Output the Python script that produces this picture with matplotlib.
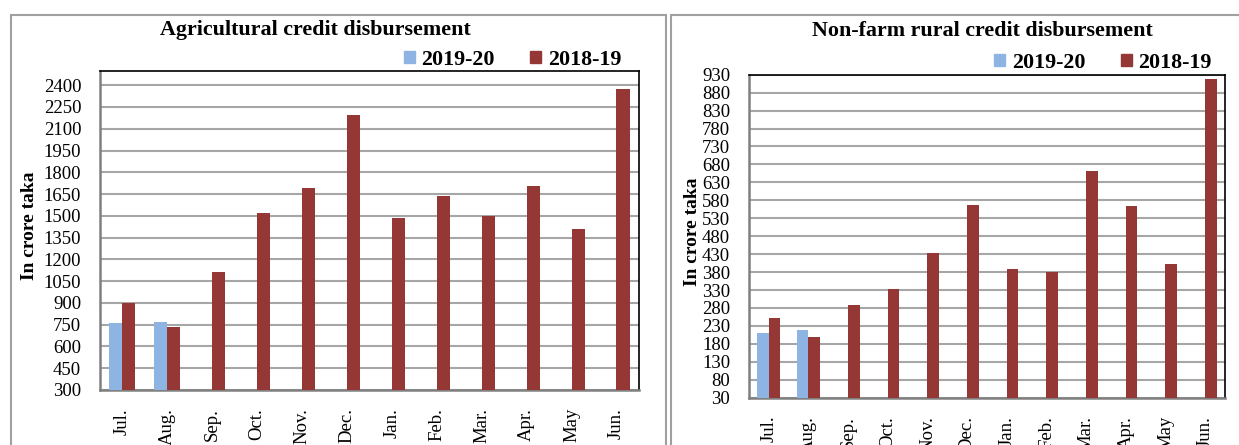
import matplotlib.pyplot as plt
import numpy as np
from matplotlib.patches import Rectangle, Patch

plt.rcParams['font.family'] = ['Liberation Serif', 'DejaVu Serif']

months = ['Jul.', 'Aug.', 'Sep.', 'Oct.', 'Nov.', 'Dec.',
          'Jan.', 'Feb.', 'Mar.', 'Apr.', 'May', 'Jun.']

# Agricultural credit (crore taka)
agri_1920 = [764, 771]
agri_1819 = [902, 737, 1114, 1523, 1689, 2193, 1482, 1634, 1496, 1703, 1406, 2372]

# Non-farm rural credit (crore taka)
nonfarm_1920 = [211, 219]
nonfarm_1819 = [253, 200, 289, 334, 433, 567, 390, 379, 662, 565, 403, 919]

agri_ticks = np.arange(300, 2401, 150)
nonfarm_ticks = np.arange(30, 931, 50)

BLUE = '#8db4e2'
RED = '#953735'
GRID = '#a6a6a6'


def draw_panel(ax, vals_new, vals_old, ticks, ylim, title, title_x, ylab_xy):
    x = np.arange(len(months))
    w = 0.29
    ax.bar(x[:len(vals_new)] - w / 2, np.array(vals_new) - ylim[0], w,
           bottom=ylim[0], color=BLUE, zorder=3, label='2019-20')
    ax.bar(x + w / 2, np.array(vals_old) - ylim[0], w,
           bottom=ylim[0], color=RED, zorder=3, label='2018-19')
    ax.set_xlim(-0.5, len(months) - 0.5)
    ax.set_ylim(*ylim)
    ax.set_yticks(ticks)
    ax.set_xticks(x)
    ax.set_xticklabels(months, rotation=90, va='top')
    ax.tick_params(axis='both', length=0, labelsize=13.5)
    ax.tick_params(axis='y', pad=13.5)
    ax.tick_params(axis='x', pad=13)
    ax.yaxis.grid(True, color=GRID, linewidth=1.5, zorder=0)
    ax.set_axisbelow(True)
    for s in ['top', 'right']:
        ax.spines[s].set_color('black')
        ax.spines[s].set_linewidth(1.2)
    for s in ['left', 'bottom']:
        ax.spines[s].set_color('#808080')
        ax.spines[s].set_linewidth(1.8)
    ax.set_title(title, x=title_x, y=1.0, pad=0, fontsize=15.8,
                 fontweight='bold', va='center')
    ax.set_ylabel('In crore taka', fontsize=14, fontweight='bold')
    ax.yaxis.label.set_va('center')
    ax.yaxis.set_label_coords(*ylab_xy)


fig = plt.figure(figsize=(12.39, 4.45), dpi=100)

# panel frames
fig.patches.append(Rectangle((11 / 1239, -0.1), 655 / 1239, 1.1 - 15 / 445,
                             transform=fig.transFigure, fill=False,
                             edgecolor='#a0a0a0', linewidth=1.5))
fig.patches.append(Rectangle((671 / 1239, -0.1), 600 / 1239, 1.1 - 15 / 445,
                             transform=fig.transFigure, fill=False,
                             edgecolor='#a0a0a0', linewidth=1.5))

ax1 = fig.add_axes([0.0807, 0.1236, 0.4350, 0.7175])
draw_panel(ax1, agri_1920, agri_1819, agri_ticks, (300, 2500),
           'Agricultural credit disbursement', 0.40, (-0.131, 0.514))
ax1.title.set_y(1.127)

ax2 = fig.add_axes([0.6045, 0.1063, 0.3842, 0.7258])
draw_panel(ax2, nonfarm_1920, nonfarm_1819, nonfarm_ticks, (30, 930),
           'Non-farm rural credit disbursement', 0.49, (-0.119, 0.513))
ax2.title.set_y(1.135)

handles = [Patch(color=BLUE, label='2019-20'), Patch(color=RED, label='2018-19')]
for ax, cx, cy in [(ax1, 512.5, 60), (ax2, 1103, 63)]:
    ax.legend(handles=handles, loc='center', ncol=2, frameon=False,
              bbox_to_anchor=(cx / 1239, 1 - cy / 445),
              bbox_transform=fig.transFigure,
              prop={'weight': 'bold', 'size': 15.8},
              handlelength=0.5, handleheight=0.5, handletextpad=0.3,
              columnspacing=1.6, borderpad=0, borderaxespad=0)

fig.savefig('out.png', dpi=100)
